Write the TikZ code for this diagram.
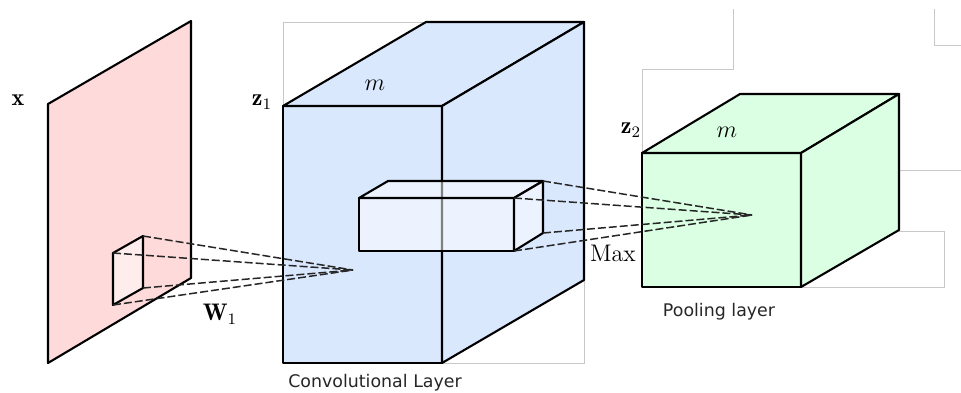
\documentclass[tikz,border=0pt]{standalone}
\usepackage{fontspec}
\newfontfamily\labelsans{DejaVu Sans}
\definecolor{pinkfill}{RGB}{255,218,218}
\definecolor{bluefill}{RGB}{218,232,254}
\definecolor{greenfill}{RGB}{218,255,227}
\definecolor{framegray}{RGB}{200,200,200}
\begin{document}
\begin{tikzpicture}[x=0.5pt,y=-0.5pt,
  edge/.style={draw=black, line width=1.05pt, line join=round},
  frameline/.style={draw=framegray, line width=0.5pt},
  ray/.style={draw=black!85, line width=0.75pt, dash pattern=on 4pt off 1.5pt},
  glass/.style={fill=white, fill opacity=0.5, draw=black, line width=1.05pt, line join=round},
  mathlbl/.style={font=\fontsize{12}{14}\selectfont, inner sep=0pt},
  captionlbl/.style={font=\labelsans\fontsize{8.7}{10}\selectfont, text=black!85, inner sep=0pt}]
\useasboundingbox (0,0) rectangle (961,392);

% light gray frames
\draw[frameline] (283,22) rectangle (584,363);
\draw[frameline] (733,9) -- (733,69) -- (642,69) -- (642,153);
\draw[frameline] (934,9) -- (934,45) -- (961,45);
\draw[frameline] (899,170) -- (961,170);
\draw[frameline] (801,287) -- (944,287) -- (944,231) -- (899,231);

% input plane
\coordinate (p1) at (48,104);
\coordinate (p2) at (191,21);
\coordinate (p3) at (191,278);
\coordinate (p4) at (48,363);
\draw[edge, fill=pinkfill] (p1) -- (p2) -- (p3) -- (p4) -- cycle;

% small receptive field
\coordinate (s1) at (113,253);
\coordinate (s2) at (143,236);
\coordinate (s3) at (143,288);
\coordinate (s4) at (113,305);
\draw[glass] (s1) -- (s2) -- (s3) -- (s4) -- cycle;

% conv cuboid
\coordinate (c1) at (283,106);
\coordinate (c2) at (442,106);
\coordinate (c3) at (442,363);
\coordinate (c4) at (283,363);
\coordinate (c5) at (426,22);
\coordinate (c6) at (584,22);
\coordinate (c7) at (584,280);
\draw[edge, fill=bluefill] (c1) -- (c2) -- (c3) -- (c4) -- cycle;
\draw[edge, fill=bluefill] (c1) -- (c5) -- (c6) -- (c2) -- cycle;
\draw[edge, fill=bluefill] (c2) -- (c6) -- (c7) -- (c3) -- cycle;

% rays to conv sink
\coordinate (k1) at (353,270);
\draw[ray] (s1) -- (k1);
\draw[ray] (s2) -- (k1);
\draw[ray] (s3) -- (k1);
\draw[ray] (s4) -- (k1);

% inner pooling window
\coordinate (b1) at (359,198);
\coordinate (b2) at (514,198);
\coordinate (b3) at (514,251);
\coordinate (b4) at (359,251);
\coordinate (b5) at (388,181);
\coordinate (b6) at (543,181);
\coordinate (b7) at (543,233);
\draw[glass] (b1) -- (b2) -- (b3) -- (b4) -- cycle;
\draw[glass] (b1) -- (b5) -- (b6) -- (b2) -- cycle;
\draw[glass] (b2) -- (b6) -- (b7) -- (b3) -- cycle;

% pooling cube
\coordinate (g1) at (642,153);
\coordinate (g2) at (801,153);
\coordinate (g3) at (801,287);
\coordinate (g4) at (642,287);
\coordinate (g5) at (740,94);
\coordinate (g6) at (899,94);
\coordinate (g7) at (899,230);
\draw[edge, fill=greenfill] (g1) -- (g2) -- (g3) -- (g4) -- cycle;
\draw[edge, fill=greenfill] (g1) -- (g5) -- (g6) -- (g2) -- cycle;
\draw[edge, fill=greenfill] (g2) -- (g6) -- (g7) -- (g3) -- cycle;

% rays to pooling sink
\coordinate (k2) at (752,215);
\draw[ray] (b2) -- (k2);
\draw[ray] (b6) -- (k2);
\draw[ray] (b7) -- (k2);
\draw[ray] (b3) -- (k2);

% labels
\node[mathlbl] (lx) at (18,100) {$\mathbf{x}$};
\node[mathlbl] (lz1) at (262,102) {$\mathbf{z}_1$};
\node[mathlbl] (lm1) at (375,85) {$m$};
\node[mathlbl] (lw) at (220,314) {$\mathbf{W}_1$};
\node[mathlbl] (lmax) at (613,253) {$\mathrm{Max}$};
\node[mathlbl] (lz2) at (631,130) {$\mathbf{z}_2$};
\node[mathlbl] (lm2) at (727,132) {$m$};
\node[captionlbl] (lconv) at (375,383) {Convolutional Layer};
\node[captionlbl] (lpool) at (719,312) {Pooling layer};
\end{tikzpicture}
\end{document}
